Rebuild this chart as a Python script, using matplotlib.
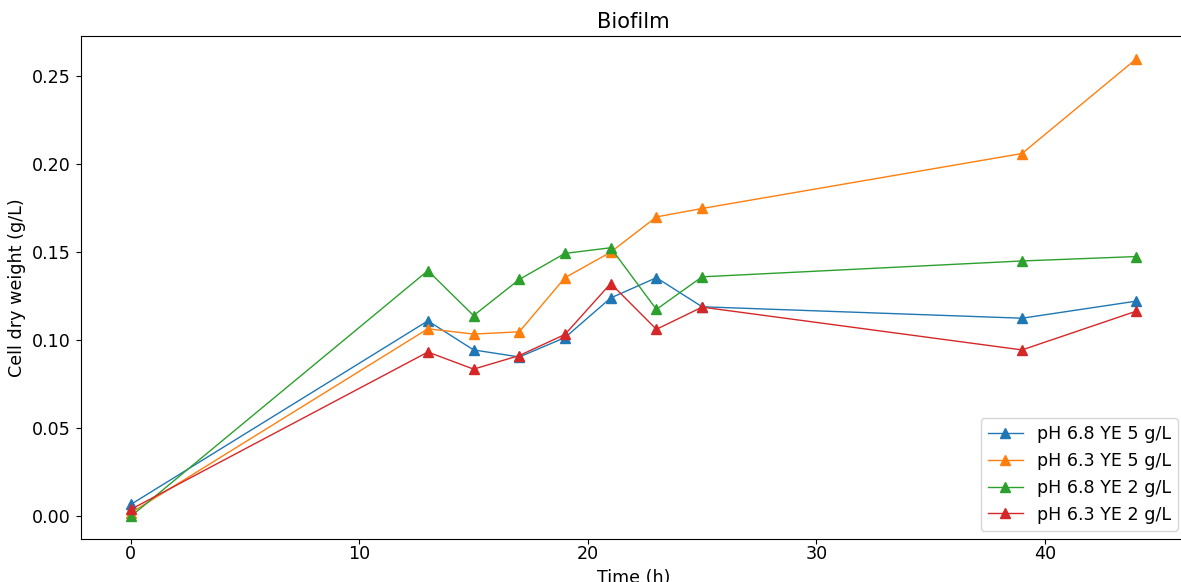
import matplotlib

matplotlib.use('agg')
import matplotlib.pyplot as plt

plt.rcParams.update({'font.size': 12.6})

# Sampling times (h)
time_h = [0, 13, 15, 17, 19, 21, 23, 25, 39, 44]

# Cell dry weight (g/L) per condition
ph68_ye5 = [0.0068, 0.111, 0.0945, 0.0905, 0.1015, 0.124, 0.1355, 0.119, 0.1125, 0.1222]
ph63_ye5 = [0.0020, 0.1065, 0.1035, 0.1048, 0.1355, 0.150, 0.170, 0.1748, 0.206, 0.2597]
ph68_ye2 = [0.0000, 0.1395, 0.114, 0.1345, 0.1493, 0.1525, 0.1175, 0.136, 0.145, 0.1475]
ph63_ye2 = [0.0040, 0.0933, 0.0836, 0.0913, 0.1033, 0.1322, 0.1062, 0.1188, 0.0945, 0.1165]

labels = ['pH 6.8 YE 5 g/L', 'pH 6.3 YE 5 g/L', 'pH 6.8 YE 2 g/L', 'pH 6.3 YE 2 g/L']


def plot():
    fig = plt.figure(figsize=(11.81, 5.82), dpi=100)
    # axes runs a little past the right edge of the figure
    ax = fig.add_axes([0.0682, 0.0734, 0.9365, 0.8647])
    for series, label in zip([ph68_ye5, ph63_ye5, ph68_ye2, ph63_ye2], labels):
        ax.plot(time_h, series, marker='^', markersize=7.2, linewidth=1, label=label)
    ax.tick_params(axis='x', pad=0.8)
    ax.set_xlabel('Time (h)')
    ax.set_ylabel('Cell dry weight (g/L)')
    ax.set_title('Biofilm')
    ax.legend(loc='lower right')
    fig.savefig('out.png')


if __name__ == "__main__":
    plot()
